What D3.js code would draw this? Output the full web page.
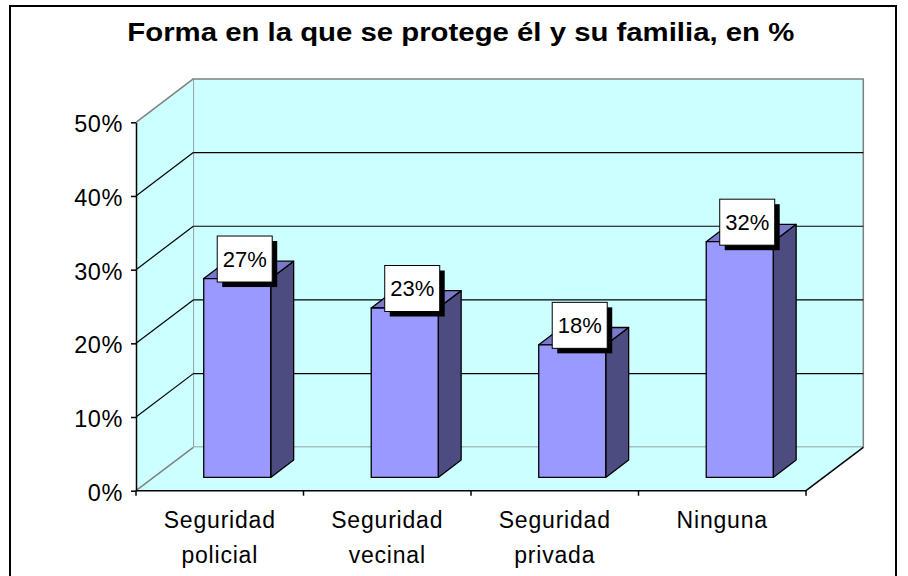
<!DOCTYPE html>
<html>
<head>
<meta charset="utf-8">
<script src="https://cdn.jsdelivr.net/npm/d3@7"></script>
<style>
  html, body { margin: 0; padding: 0; background: #fff; }
  svg { display: block; font-family: Arial, "Liberation Sans", sans-serif; }
</style>
</head>
<body>
<svg id="chart" width="908" height="576"></svg>
<script>
// ---- Data ----
const title = "Forma en la que se protege él y su familia, en %";
const categories = ["Seguridad policial", "Seguridad vecinal", "Seguridad privada", "Ninguna"];
const values = [0.27, 0.23, 0.18, 0.32];
const valueLabels = ["27%", "23%", "18%", "32%"];
const yTicks = [0, 0.1, 0.2, 0.3, 0.4, 0.5];

// ---- Layout ----
const svg = d3.select("#chart");
const X0 = 136, X1 = 806;          // front floor edge
const Y0 = 490.7, Y1 = 122.3;      // front y range (0% .. 50%)
const DX = 57.3, DY = 43.4;        // depth offset of back wall
const y = d3.scaleLinear().domain([0, 0.5]).range([Y0, Y1]);
const x = d3.scaleBand().domain(categories).range([X0, X1]).paddingInner(0).paddingOuter(0);
const P = (px, py, d) => [px + d * DX, py - d * DY];
const poly = pts => "M" + pts.map(p => p.join(",")).join("L") + "Z";

const wallFill = "#CCFFFF", edgeGray = "#808080";

// outer border
svg.append("rect").attr("x", 10).attr("y", 6).attr("width", 886).attr("height", 600)
  .attr("fill", "none").attr("stroke", "#000").attr("stroke-width", 2);

// title
svg.append("text").attr("x", 460.8).attr("y", 40.5).attr("text-anchor", "middle")
  .attr("font-size", 25.5).attr("font-weight", "bold")
  .attr("textLength", 667).attr("lengthAdjust", "spacingAndGlyphs")
  .text(title);

// back wall
const ymax = y.domain()[1];
svg.append("path").attr("d", poly([P(X0, y(0), 1), P(X1, y(0), 1), P(X1, y(ymax), 1), P(X0, y(ymax), 1)]))
  .attr("fill", wallFill).attr("stroke", edgeGray).attr("stroke-width", 1.5);
// side wall
svg.append("path").attr("d", poly([P(X0, y(0), 0), P(X0, y(ymax), 0), P(X0, y(ymax), 1), P(X0, y(0), 1)]))
  .attr("fill", wallFill).attr("stroke", "none");
svg.append("line").attr("x1", X0).attr("y1", y(ymax)).attr("x2", P(X0, y(ymax), 1)[0]).attr("y2", P(X0, y(ymax), 1)[1])
  .attr("stroke", edgeGray).attr("stroke-width", 1.5);
// floor
svg.append("path").attr("d", poly([P(X0, y(0), 0), P(X1, y(0), 0), P(X1, y(0), 1), P(X0, y(0), 1)]))
  .attr("fill", wallFill).attr("stroke", "none");
svg.append("line").attr("x1", X0).attr("y1", y(0)).attr("x2", P(X0, y(0), 1)[0]).attr("y2", P(X0, y(0), 1)[1])
  .attr("stroke", edgeGray).attr("stroke-width", 1.5);
svg.append("line").attr("x1", X1).attr("y1", y(0)).attr("x2", P(X1, y(0), 1)[0]).attr("y2", P(X1, y(0), 1)[1])
  .attr("stroke", "#000").attr("stroke-width", 1.5);

// gridlines
const grid = yTicks.filter(v => v > 0 && v < ymax);
svg.append("g").selectAll("line.gb").data(grid).join("line")
  .attr("x1", v => P(X0, y(v), 1)[0]).attr("y1", v => P(X0, y(v), 1)[1])
  .attr("x2", v => P(X1, y(v), 1)[0]).attr("y2", v => P(X1, y(v), 1)[1])
  .attr("stroke", "#000").attr("stroke-width", 1.2);
svg.append("g").selectAll("line.gs").data(grid).join("line")
  .attr("x1", X0).attr("y1", v => y(v))
  .attr("x2", v => P(X0, y(v), 1)[0]).attr("y2", v => P(X0, y(v), 1)[1])
  .attr("stroke", "#000").attr("stroke-width", 1.2);

// y axis
const yAxis = d3.axisLeft(y).tickValues(yTicks).tickFormat(d3.format(".0%"))
  .tickSize(5).tickSizeOuter(0).tickPadding(8);
const gy = svg.append("g").attr("transform", `translate(${X0},0)`).call(yAxis);
gy.select(".domain").attr("stroke", "#000").attr("stroke-width", 1.5);
gy.selectAll(".tick line").attr("stroke", "#000").attr("stroke-width", 1.5);
gy.selectAll(".tick text").attr("font-size", 23.5).attr("font-family", "Arial, 'Liberation Sans', sans-serif")
  .attr("fill", "#000").attr("dy", "0.4em").attr("letter-spacing", 0.6);

// x axis: floor front edge + boundary ticks
svg.append("line").attr("x1", X0).attr("y1", y(0)).attr("x2", X1).attr("y2", y(0))
  .attr("stroke", "#000").attr("stroke-width", 1.5);
const bounds = categories.map(c => x(c)).concat([x.range()[1]]);
svg.append("g").selectAll("line").data(bounds).join("line")
  .attr("x1", d => d).attr("x2", d => d).attr("y1", y(0)).attr("y2", y(0) + 5)
  .attr("stroke", "#000").attr("stroke-width", 1.5);

const xAxis = d3.axisBottom(x).tickSize(0).tickPadding(0);
const gx = svg.append("g").attr("transform", `translate(0,${y(0)})`).call(xAxis);
gx.select(".domain").remove();
gx.selectAll(".tick text").each(function(d) {
  const t = d3.select(this);
  const parts = d.split(" ");
  t.text(null).attr("y", 0).attr("dy", null)
    .attr("font-size", 23).attr("font-family", "Arial, 'Liberation Sans', sans-serif")
    .attr("fill", "#000").attr("letter-spacing", 0.8);
  parts.forEach((p, i) => {
    t.append("tspan").attr("x", 0).attr("y", 37.5 + i * 35).text(p);
  });
});

// bars
const bw = x.bandwidth() * 0.4;
const dF = 0.305, dB = 0.705;
const bars = svg.append("g");
categories.forEach((c, i) => {
  const xl = x(c) + (x.bandwidth() - bw) / 2, xr = xl + bw;
  const yt = y(values[i]), yb = y(0);
  const g = bars.append("g");
  g.append("path").attr("d", poly([P(xr, yb, dF), P(xr, yb, dB), P(xr, yt, dB), P(xr, yt, dF)]))
    .attr("fill", "#4C4C80").attr("stroke", "#000").attr("stroke-width", 1.3).attr("stroke-linejoin", "round");
  g.append("path").attr("d", poly([P(xl, yt, dF), P(xr, yt, dF), P(xr, yt, dB), P(xl, yt, dB)]))
    .attr("fill", "#7A7ACC").attr("stroke", "#000").attr("stroke-width", 1.3).attr("stroke-linejoin", "round");
  g.append("path").attr("d", poly([P(xl, yb, dF), P(xr, yb, dF), P(xr, yt, dF), P(xl, yt, dF)]))
    .attr("fill", "#9999FF").attr("stroke", "#000").attr("stroke-width", 1.3).attr("stroke-linejoin", "round");
});

// data labels
const labels = svg.append("g");
const boxW = 55, boxH = 46;
categories.forEach((c, i) => {
  const front = P(x(c) + x.bandwidth() / 2, y(values[i]), dF);
  const cx = front[0] + 7.5;
  const by = front[1] + 3.5;
  const g = labels.append("g");
  g.append("rect").attr("x", cx - boxW / 2 + 5).attr("y", by - boxH + 5).attr("width", boxW).attr("height", boxH)
    .attr("fill", "#000");
  g.append("rect").attr("x", cx - boxW / 2).attr("y", by - boxH).attr("width", boxW).attr("height", boxH)
    .attr("fill", "#fff").attr("stroke", "#000").attr("stroke-width", 1);
  g.append("text").attr("x", cx).attr("y", by - boxH / 2 + 8).attr("text-anchor", "middle")
    .attr("font-size", 22).attr("fill", "#000").text(valueLabels[i]);
});
</script>
</body>
</html>
